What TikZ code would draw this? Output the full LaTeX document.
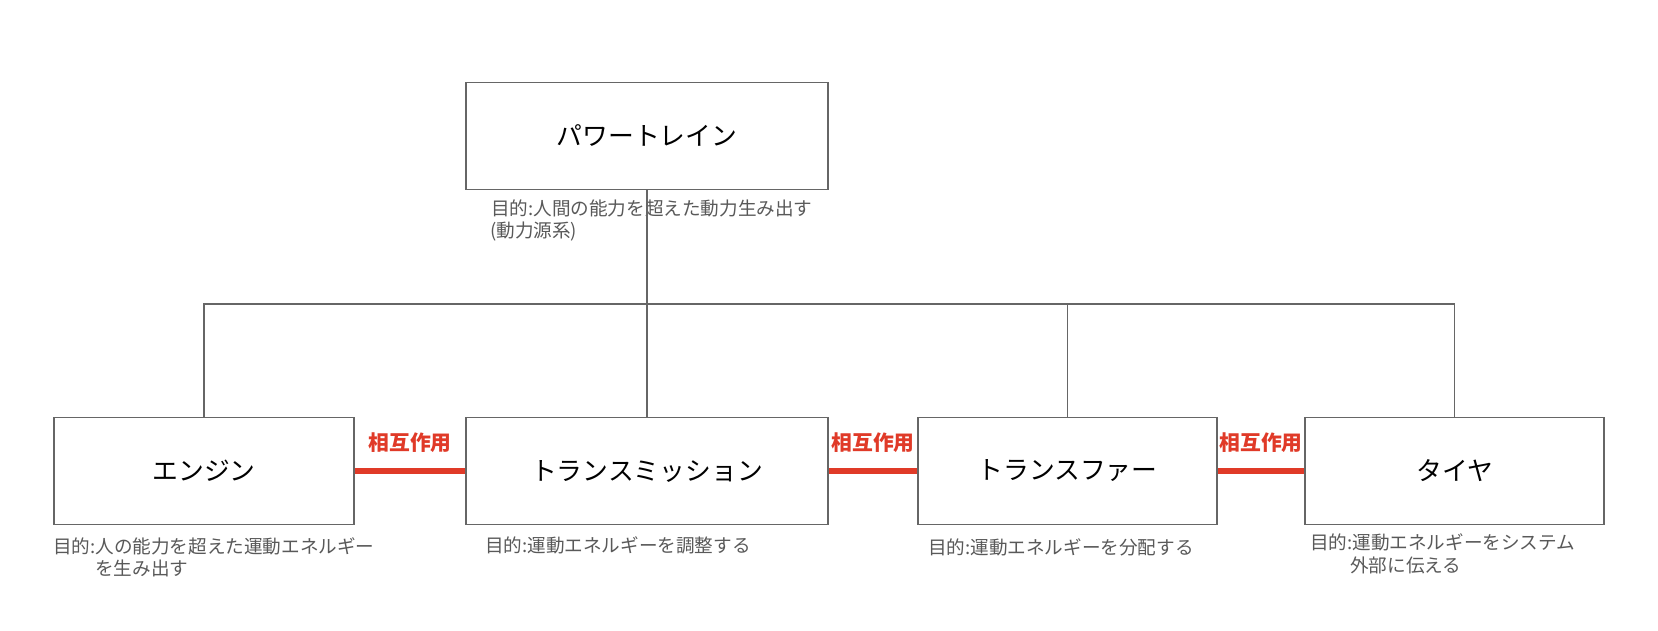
\documentclass[tikz,border=0pt]{standalone}
\usepackage{fontspec}
\setmainfont{Noto Sans CJK JP}
\definecolor{boxgray}{HTML}{666666}
\definecolor{notegray}{HTML}{595959}
\definecolor{linkred}{HTML}{E03A28}
\tikzset{
  unit/.style={draw=boxgray, line width=1.8pt, fill=white, minimum height=107pt, font=\fontsize{25.8}{30}\selectfont, text=black, inner sep=0pt},
  note/.style={anchor=west, inner sep=0pt, text=notegray, font=\fontsize{18.6}{22}\selectfont},
  tree/.style={draw=boxgray, line width=1.4pt},
  link/.style={draw=linkred, line width=6.5pt},
  linklabel/.style={text=linkred, font=\fontsize{20.8}{24}\selectfont\bfseries, inner sep=0pt}
}
\begin{document}
\begin{tikzpicture}[x=1pt,y=-1pt]
\useasboundingbox[fill=white] (0,0) rectangle (1658,631);
% notes
\node[note] (topn1) at (491,208) {目的:人間の能力を超えた動力生み出す};
\node[note] (topn2) at (490,232) {(動力源系)};
\node[note] (engn1) at (53,546) {目的:人の能力を超えた運動エネルギー};
\node[note] (engn2) at (95,568) {を生み出す};
\node[note] (trsn1) at (485,545) {目的:運動エネルギーを調整する};
\node[note] (trfn1) at (928,547) {目的:運動エネルギーを分配する};
\node[note] (tiren1) at (1310,542) {目的:運動エネルギーをシステム};
\node[note] (tiren2) at (1350,565) {外部に伝える};
% boxes
\node[unit, minimum width=362pt] (top) at (647,136) {パワートレイン};
\node[unit, minimum width=300pt] (eng) at (204,471) {エンジン};
\node[unit, minimum width=362pt] (trs) at (647,471) {トランスミッション};
\node[unit, minimum width=299pt] (trf) at (1067.5,471) {トランスファー};
\node[unit, minimum width=299pt] (tire) at (1454.5,471) {タイヤ};
\coordinate (bus) at (647,304);
% tree connectors
\draw[tree] (top.south) -- (trs.north);
\draw[tree] (eng.north) -- (eng.north |- bus) -- (tire.north |- bus) -- (tire.north);
\draw[tree] (trf.north) -- (trf.north |- bus);
% interaction links
\draw[link] (eng.east) -- node[linklabel, yshift=28pt] (l1) {相互作用} (trs.west);
\draw[link] (trs.east) -- node[linklabel, yshift=28pt] (l2) {相互作用} (trf.west);
\draw[link] (trf.east) -- node[linklabel, yshift=28pt] (l3) {相互作用} (tire.west);
\end{tikzpicture}
\end{document}
